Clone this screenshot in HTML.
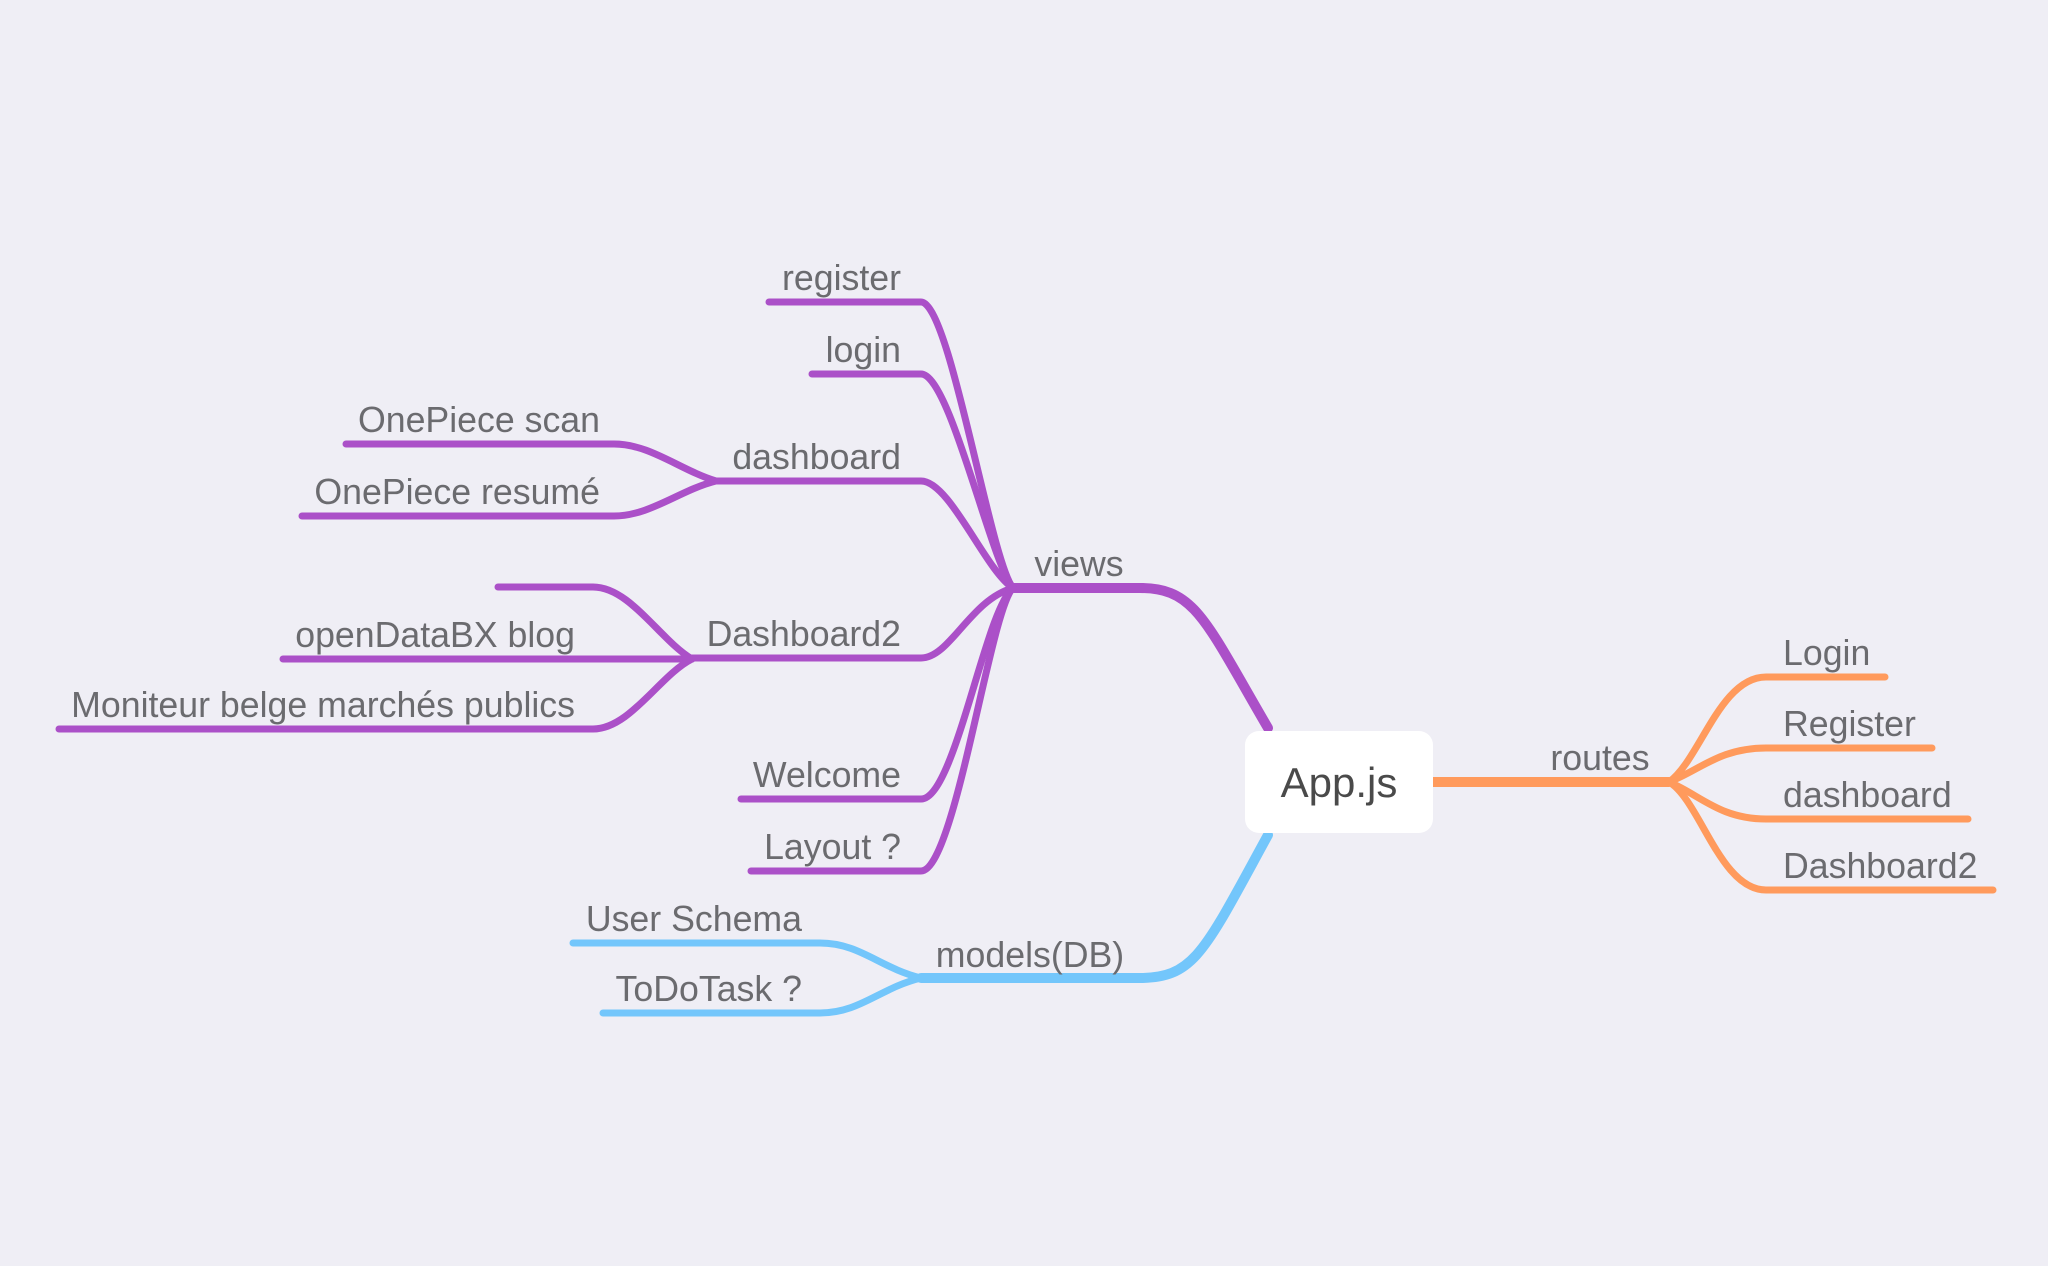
<!DOCTYPE html>
<html><head><meta charset="utf-8"><style>
html,body{margin:0;padding:0;background:#efeef5;}
svg{display:block;}
text{font-family:"Liberation Sans",sans-serif;fill:#6b6b6f;font-size:35.7px;}
</style></head><body>
<svg width="2048" height="1266" viewBox="0 0 2048 1266" xmlns="http://www.w3.org/2000/svg">
<g fill="none" stroke-linecap="round">
<g stroke="#ab50c8">
<path d="M1268 728 C1205 620 1195 588 1140 588 H1013" stroke-width="10"/>
<g stroke-width="7">
<path d="M1013 588 C990 560 950 302 921 302 H769"/>
<path d="M1013 588 C990 560 950 374 921 374 H812"/>
<path d="M1013 588 C985 570 950 481 921 481 H716"/>
<path d="M1013 588 C970 600 950 658 921 658 H692"/>
<path d="M1013 588 C985 610 955 799 921 799 H741"/>
<path d="M1013 588 C990 610 955 871 921 871 H751"/>
<path d="M716 481 C680 470 650 444 614 444 H346"/>
<path d="M716 481 C680 490 650 516 614 516 H302"/>
<path d="M692 659 C660 640 630 587 593 587 H498"/>
<path d="M692 659 H283"/>
<path d="M692 659 C660 675 630 729 593 729 H59"/>
</g></g>
<g stroke="#73c6fb">
<path d="M1268 835 C1205 950 1195 978 1140 978 H921" stroke-width="10"/>
<g stroke-width="7">
<path d="M921 978 C880 968 860 943 820 943 H573"/>
<path d="M921 978 C880 988 860 1013 820 1013 H603"/>
</g></g>
<g stroke="#ff9a5c">
<path d="M1433 782 H1669" stroke-width="10"/>
<g stroke-width="7">
<path d="M1669 782 C1700 760 1720 677 1766 677 H1885"/>
<path d="M1669 782 C1700 770 1720 748 1766 748 H1932"/>
<path d="M1669 782 C1700 795 1720 819 1766 819 H1968"/>
<path d="M1669 782 C1700 800 1720 890 1766 890 H1993"/>
</g></g>
</g>
<rect x="1245" y="731" width="188" height="102" rx="14" fill="#fff"/>
<text x="1339" y="797" text-anchor="middle" style="font-size:42px;fill:#4a4a4a">App.js</text>
<text x="1079" y="576" text-anchor="middle">views</text>
<text x="1030" y="967" text-anchor="middle">models(DB)</text>
<text x="1600" y="770" text-anchor="middle">routes</text>
<g text-anchor="end">
<text x="901" y="290">register</text>
<text x="901" y="362">login</text>
<text x="901" y="469">dashboard</text>
<text x="901" y="646">Dashboard2</text>
<text x="901" y="787">Welcome</text>
<text x="901" y="859">Layout ?</text>
<text x="600" y="432">OnePiece scan</text>
<text x="600" y="504">OnePiece resumé</text>
<text x="575" y="647">openDataBX blog</text>
<text x="575" y="717">Moniteur belge marchés publics</text>
<text x="802" y="931">User Schema</text>
<text x="802" y="1001">ToDoTask ?</text>
</g>
<text x="1783" y="665">Login</text>
<text x="1783" y="736">Register</text>
<text x="1783" y="807">dashboard</text>
<text x="1783" y="878">Dashboard2</text>
</svg>
</body></html>
